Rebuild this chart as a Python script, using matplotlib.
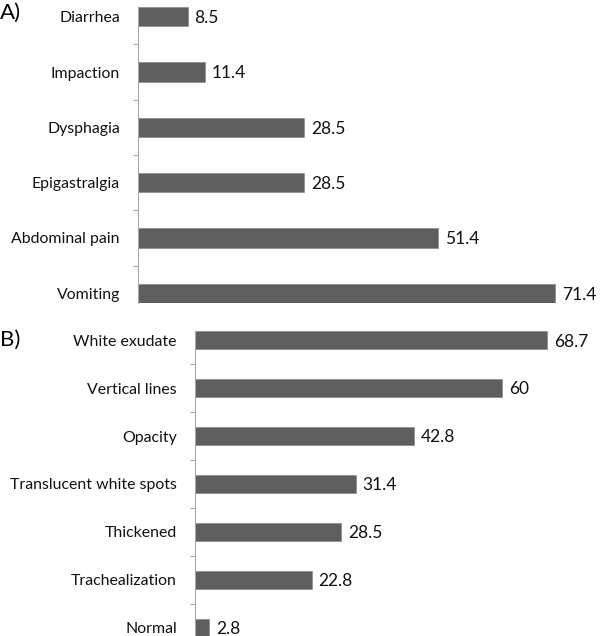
import matplotlib
matplotlib.use("Agg")
import matplotlib.pyplot as plt
import numpy as np

plt.rcParams["font.family"] = ["Lato", "DejaVu Sans"]

# panel A: symptoms (%)
symptoms = ["Vomiting", "Abdominal pain", "Epigastralgia", "Dysphagia", "Impaction", "Diarrhea"]
symptom_pct = [71.4, 51.4, 28.5, 28.5, 11.4, 8.5]

# panel B: endoscopic findings (%)
findings = ["Normal", "Trachealization", "Thickened", "Translucent white spots",
            "Opacity", "Vertical lines", "White exudate"]
finding_pct = [2.8, 22.8, 28.5, 31.4, 42.8, 60, 68.7]
finding_lbl = ["2.8", "22.8", "28.5", "31.4", "42.8", "60", "68.7"]

bar_color = "#5e5e5e"
axis_color = "#a8a8a8"

fig = plt.figure(figsize=(6.0, 6.36), dpi=100)
W, H = 600.0, 636.0


def panel(rect, cats, vals, labels, xmax, h, ylim):
    ax = fig.add_axes(rect)
    y = np.arange(len(cats))
    ax.barh(y, vals, height=h, color=bar_color, edgecolor="#8a8a8a", linewidth=0.5)
    for yi, v, s in zip(y, vals, labels):
        ax.annotate(s, (v, yi), xytext=(5, -1), textcoords="offset points",
                    va="center", ha="left", fontsize=12.5, color="#111111")
    ax.set_xlim(0, xmax)
    ax.set_ylim(*ylim)
    ax.set_yticks(y)
    ax.set_yticklabels(cats, fontsize=11.4, color="#111111")
    ax.set_yticks(y[:-1] + 0.5, minor=True)
    ax.tick_params(axis="y", which="major", length=0, pad=13)
    ax.tick_params(axis="y", which="minor", length=3.6, color=axis_color, width=0.8)
    ax.set_xticks([])
    for s in ["top", "right", "bottom"]:
        ax.spines[s].set_visible(False)
    ax.spines["left"].set_color(axis_color)
    ax.spines["left"].set_linewidth(0.8)
    return ax


panel([138 / W, (636 - 303) / H, 422 / W, 296 / H], symptoms, symptom_pct,
      [str(v) for v in symptom_pct], 422 / 5.84, 0.35, (-0.175, 5.175))
panel([195 / W, 0, 360 / W, 305 / H], findings, finding_pct, finding_lbl,
      360 / 5.12, 0.37, (-0.17, 6.19))

fig.text(0 / W, 1 - 13 / H, "A)", fontsize=16, va="center", ha="left")
fig.text(0 / W, 1 - 340 / H, "B)", fontsize=16, va="center", ha="left")

fig.savefig("out.png", dpi=100)
